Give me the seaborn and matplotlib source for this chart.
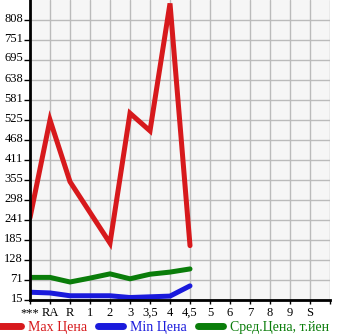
import numpy as np
import pandas as pd
import matplotlib
matplotlib.use("Agg")
import matplotlib.pyplot as plt
import matplotlib.transforms as mtransforms
import seaborn as sns

categories = ["***", "RA", "R", "1", "2", "3", "3,5", "4", "4,5", "5", "6", "7", "8", "9", "S"]
data_cats = ["***", "RA", "R", "1", "2", "3", "3,5", "4", "4,5"]
max_price = [248, 525, 350, 263, 176, 544, 494, 855, 169]
min_price = [37, 35, 27, 27, 27, 22, 24, 26, 55]
avg_price = [79, 79, 66, 77, 89, 75, 88, 94, 103]
series_names = ["Max Цена", "Min Цена", "Сред.Цена, т.йен"]
colors = ["#d7191c", "#1a1adc", "#0a7d0a"]
ytick_values = list(np.linspace(15, 808, 15))
ytick_labels = ["15", "71", "128", "185", "241", "298", "355", "411", "468",
                "525", "581", "638", "695", "751", "808"]

sns.set_theme(style="white")
plt.rcParams['font.family'] = ['Liberation Serif', 'DejaVu Serif']

rows = []
for name, vals in zip(series_names, [max_price, min_price, avg_price]):
    for c, v in zip(data_cats, vals):
        rows.append({"x": categories.index(c), "y": v, "series": name})
df = pd.DataFrame(rows)

fig = plt.figure(figsize=(3.45, 3.35), dpi=100)
ax = fig.add_axes([30/345, 35/335, 300/345, 300/335])
ax.set_facecolor("#f6f6f6")

sns.lineplot(data=df, x="x", y="y", hue="series", palette=dict(zip(series_names, colors)),
             linewidth=3.6, ax=ax, legend=False, solid_capstyle="round", solid_joinstyle="miter")

step = (808 - 15) / 14
ax.set_xlim(0, 15)
ax.set_ylim(15, 808 + step)
ax.set_xticks(range(16))
ax.set_xticklabels(categories + [""], fontsize=9)
ax.set_yticks(ytick_values)
ax.set_yticklabels(ytick_labels, fontsize=9)
ax.grid(True, color="#bbbbbb", linewidth=1)
ax.set_axisbelow(True)
ax.set_xlabel("")
ax.set_ylabel("")
for s in ["top", "right"]:
    ax.spines[s].set_visible(False)
ax.spines["left"].set_color("black")
ax.spines["left"].set_linewidth(2)
ax.spines["bottom"].set_color("black")
ax.spines["bottom"].set_linewidth(2)
ax.tick_params(axis="both", which="both", direction="out", length=4, width=1,
               color="black", pad=2, labelcolor="black")
ax.tick_params(axis="y", left=True, pad=1)
ax.tick_params(axis="x", bottom=True, length=3)

offset = mtransforms.ScaledTranslation(0, 3/100, fig.dpi_scale_trans)
for lbl in ax.get_yticklabels():
    lbl.set_transform(lbl.get_transform() + offset)

handles = [plt.Line2D([0], [0], color=c, linewidth=5, solid_capstyle="round") for c in colors]
leg = fig.legend(handles, series_names, loc="lower center", bbox_to_anchor=(0.47, -0.035),
                 ncol=3, frameon=False, fontsize=10, handlelength=1.8, handletextpad=0.5,
                 columnspacing=0.8)
for t, c in zip(leg.get_texts(), colors):
    t.set_color(c)

fig.savefig("out.png", dpi=100)
